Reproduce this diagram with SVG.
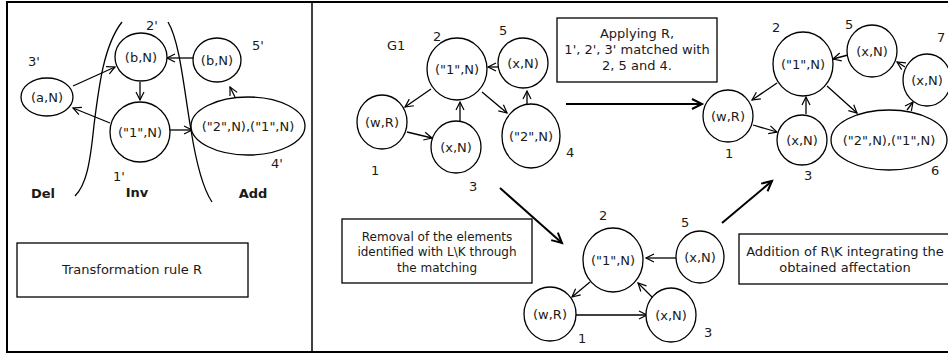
<svg xmlns="http://www.w3.org/2000/svg" width="948" height="354" viewBox="0 0 948 354">
<defs>
<marker id="ah" markerUnits="userSpaceOnUse" markerWidth="12" markerHeight="12" refX="9" refY="5" orient="auto">
<path d="M1,1 L9,5 L1,9" fill="none" stroke="#000" stroke-width="1.2"/>
</marker>
<marker id="ahb" markerUnits="userSpaceOnUse" markerWidth="14" markerHeight="14" refX="11" refY="6" orient="auto">
<path d="M1,1 L11,6 L1,11" fill="none" stroke="#000" stroke-width="2"/>
</marker>
</defs>
<style>
text{font-family:"DejaVu Sans","Liberation Sans",sans-serif;font-size:13px;fill:#1a1a1a}
.c{text-anchor:middle}
.b{font-weight:bold}
.s{font-size:12px}
.n{fill:#fff;stroke:#000;stroke-width:1.3}
.e{fill:none;stroke:#000;stroke-width:1.3;marker-end:url(#ah)}
.t{fill:none;stroke:#000;stroke-width:2;marker-end:url(#ahb)}
.box{fill:#fff;stroke:#000;stroke-width:1.3}
</style>
<rect x="0" y="0" width="948" height="354" fill="#fff"/>
<rect x="7" y="2" width="946" height="350" fill="none" stroke="#000" stroke-width="2"/>
<line x1="312" y1="2" x2="312" y2="352" stroke="#000" stroke-width="1.5"/>

<g id="zones">
<path d="M122,22 C104,45 99,85 94,125 C90,165 86,185 75,196" fill="none" stroke="#000" stroke-width="1.3"/>
<path d="M168,22 C180,42 184,90 191,130 C197,168 204,190 212,202" fill="none" stroke="#000" stroke-width="1.3"/>
<text class="b c" x="43" y="198">Del</text>
<text class="b c" x="137" y="197">Inv</text>
<text class="b c" x="253" y="198">Add</text>
</g>

<g id="connectors">
<line class="e" x1="73" y1="86" x2="115" y2="67"/>
<line class="e" x1="140" y1="82" x2="140" y2="100"/>
<line class="e" x1="110" y1="123" x2="73" y2="108"/>
<line class="e" x1="170" y1="130" x2="192" y2="130"/>
<line class="e" x1="193" y1="58" x2="167" y2="58"/>
<line class="e" x1="235" y1="97" x2="230" y2="87"/>

<line class="e" x1="431" y1="89" x2="405" y2="107"/>
<line class="e" x1="407" y1="132" x2="432" y2="138"/>
<line class="e" x1="460" y1="121" x2="460" y2="102"/>
<line class="e" x1="482" y1="92" x2="507" y2="113"/>
<line class="e" x1="498" y1="67" x2="488" y2="67"/>
<line class="e" x1="527" y1="104" x2="527" y2="91"/>

<line class="e" x1="777" y1="83" x2="752" y2="100"/>
<line class="e" x1="753" y1="125" x2="777" y2="132"/>
<line class="e" x1="806" y1="114" x2="806" y2="97"/>
<line class="e" x1="827" y1="86" x2="857" y2="113"/>
<line class="e" x1="848" y1="55" x2="833" y2="59"/>
<line class="e" x1="905" y1="67" x2="897" y2="62"/>
<line class="e" x1="907" y1="110" x2="913" y2="102"/>

<line class="e" x1="590" y1="282" x2="572" y2="297"/>
<line class="e" x1="576" y1="315" x2="647" y2="315"/>
<line class="e" x1="653" y1="298" x2="638" y2="283"/>
<line class="e" x1="676" y1="258" x2="646" y2="258"/>

<line class="t" x1="566" y1="104" x2="702" y2="104"/>
<line class="t" x1="500" y1="188" x2="562" y2="243"/>
<line class="t" x1="722" y1="223" x2="772" y2="181"/>
</g>

<g id="L-a"><ellipse class="n" cx="47" cy="97" rx="26" ry="19"/><text class="c" x="47" y="102">(a,N)</text><text x="28" y="66">3'</text></g>
<g id="L-b"><ellipse class="n" cx="141" cy="57" rx="26" ry="24"/><text class="c" x="141" y="62">(b,N)</text><text x="146" y="30">2'</text></g>
<g id="L-1"><ellipse class="n" cx="140" cy="132" rx="30" ry="30"/><text class="c" x="140" y="137">("1",N)</text><text x="113" y="181">1'</text></g>
<g id="L-b5"><ellipse class="n" cx="217" cy="60" rx="24" ry="22"/><text class="c" x="217" y="65">(b,N)</text><text x="252" y="50">5'</text></g>
<g id="L-4"><ellipse class="n" cx="248" cy="126" rx="57" ry="29"/><text class="c" x="248" y="131">("2",N),("1",N)</text><text x="271" y="168">4'</text></g>

<g id="rule-box"><rect class="box" x="17" y="243" width="231" height="54"/><text class="c" x="132" y="274">Transformation rule R</text></g>

<text id="g1-label" x="387" y="50">G1</text>
<g id="G1-2"><ellipse class="n" cx="457" cy="69" rx="30" ry="31"/><text class="c" x="457" y="74">("1",N)</text><text x="433" y="41">2</text></g>
<g id="G1-5"><ellipse class="n" cx="523" cy="63" rx="25" ry="25"/><text class="c" x="523" y="68">(x,N)</text><text x="499" y="35">5</text></g>
<g id="G1-1"><ellipse class="n" cx="382" cy="122" rx="25" ry="27"/><text class="c" x="382" y="127">(w,R)</text><text x="371" y="175">1</text></g>
<g id="G1-3"><ellipse class="n" cx="456" cy="147" rx="25" ry="26"/><text class="c" x="456" y="152">(x,N)</text><text x="469" y="191">3</text></g>
<g id="G1-4"><ellipse class="n" cx="531" cy="136" rx="29" ry="32"/><text class="c" x="531" y="141">("2",N)</text><text x="566" y="157">4</text></g>

<g id="apply-box"><rect class="box" x="557" y="18" width="160" height="64"/><text class="c" x="637" y="38">Applying R,</text><text class="c" x="637" y="54">1', 2', 3' matched with</text><text class="c" x="637" y="70">2, 5 and 4.</text></g>

<g id="R-2"><ellipse class="n" cx="803" cy="64" rx="30" ry="32"/><text class="c" x="803" y="69">("1",N)</text><text x="772" y="32">2</text></g>
<g id="R-5"><ellipse class="n" cx="872" cy="51" rx="25" ry="26"/><text class="c" x="872" y="56">(x,N)</text><text x="845" y="29">5</text></g>
<g id="R-7"><ellipse class="n" cx="927" cy="80" rx="24" ry="26"/><text class="c" x="927" y="85">(x,N)</text><text x="937" y="42">7</text></g>
<g id="R-1"><ellipse class="n" cx="728" cy="116" rx="25" ry="26"/><text class="c" x="728" y="121">(w,R)</text><text x="725" y="158">1</text></g>
<g id="R-3"><ellipse class="n" cx="802" cy="140" rx="25" ry="25"/><text class="c" x="802" y="145">(x,N)</text><text x="804" y="180">3</text></g>
<g id="R-6"><ellipse class="n" cx="889" cy="140" rx="58" ry="30"/><text class="c" x="889" y="145">("2",N),("1",N)</text><text x="931" y="175">6</text></g>

<g id="removal-box"><rect class="box" x="342" y="219" width="190" height="64"/><text class="c s" x="437" y="241">Removal of the elements</text><text class="c s" x="437" y="256">identified with L\K through</text><text class="c s" x="437" y="272">the matching</text></g>

<g id="B-2"><ellipse class="n" cx="613" cy="260" rx="30" ry="32"/><text class="c" x="613" y="265">("1",N)</text><text x="599" y="220">2</text></g>
<g id="B-5"><ellipse class="n" cx="700" cy="257" rx="24" ry="26"/><text class="c" x="700" y="262">(x,N)</text><text x="681" y="227">5</text></g>
<g id="B-1"><ellipse class="n" cx="550" cy="314" rx="26" ry="27"/><text class="c" x="550" y="319">(w,R)</text><text x="578" y="343">1</text></g>
<g id="B-3"><ellipse class="n" cx="671" cy="315" rx="25" ry="27"/><text class="c" x="671" y="320">(x,N)</text><text x="704" y="337">3</text></g>

<g id="addition-box"><rect class="box" x="739" y="234" width="212" height="50"/><text class="c" x="845" y="256">Addition of R\K integrating the</text><text class="c" x="845" y="272">obtained affectation</text></g>
</svg>
